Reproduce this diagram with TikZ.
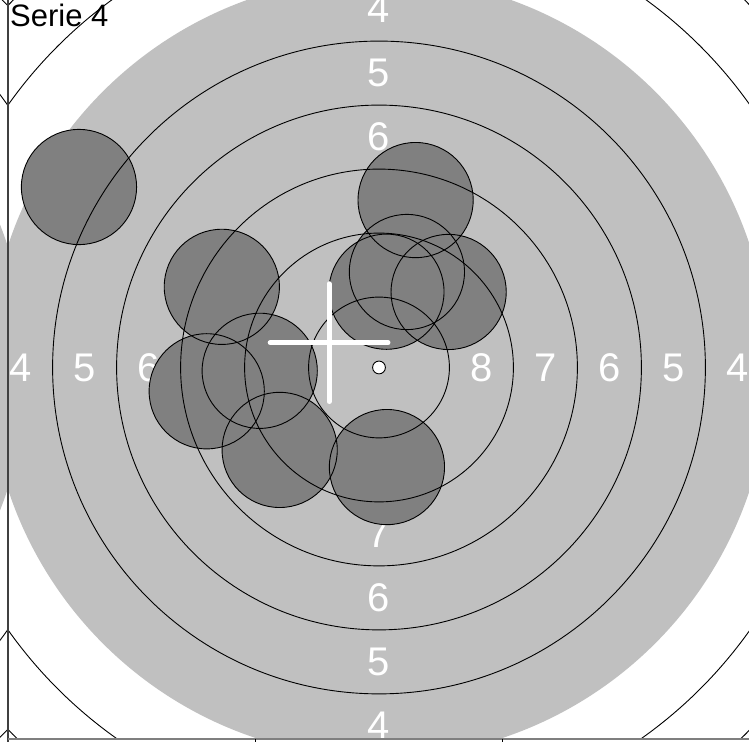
\documentclass[tikz,border=0pt]{standalone}
\usepackage{fontspec}
\setmainfont{Liberation Sans}
\definecolor{tgtAim}{HTML}{C0C0C0}
\definecolor{tgtHole}{HTML}{808080}
\definecolor{tgtFrame}{HTML}{404040}
\definecolor{tgtBase}{HTML}{7F7F7F}
\tikzset{
  aim/.style={fill=tgtAim},
  ring/.style={draw=black, line width=0.9pt},
  holefill/.style={fill=tgtHole},
  ringnum/.style={text=white, inner sep=0pt, font=\fontsize{40}{40}\selectfont},
  serie/.style={text=black, inner sep=0pt, anchor=base west,
                font=\fontsize{31}{31}\selectfont},
  meancross/.style={draw=white, line width=5pt, line cap=round},
  frameline/.style={draw=tgtFrame, line width=1.8pt},
  baseline/.style={draw=tgtBase, line width=1.8pt},
  tickline/.style={draw=black, line width=0.8pt},
}
% air rifle target, lengths in mm (1 mm = 25.6pt)
\newcommand{\ringradii}{2.75,5.25,7.75,10.25,12.75,17.75,20.25,22.75}
\newcommand{\aimradius}{15.25}
\newcommand{\shotradius}{2.25}
\newcommand{\shots}{-11.72/7.05, 1.43/6.54, 1.09/3.73, 0.29/2.96, 2.72/2.95,
  -6.14/3.15, -4.66/-0.13, -6.73/-0.93, -3.88/-3.22, 0.31/-3.89}

\begin{document}
\begin{tikzpicture}[x=25.6pt, y=25.6pt]
\useasboundingbox (-14.805,-14.629) rectangle (14.453,14.355);
\clip (-14.805,-14.629) rectangle (14.453,14.355);

% ---- the neighbouring panel (serie 3)
\begin{scope}
  \clip (-40,-14.5) rectangle (-14.5,20);
  \coordinate (P) at (-29,0);
  \fill[aim] (P) circle (\aimradius);
  \foreach \r in \ringradii { \draw[ring] (P) circle (\r); }
\end{scope}

% ---- the target of this serie
\begin{scope}
  \clip (-14.5,-14.5) rectangle (20,20);
  \coordinate (C) at (0,0);
  \fill[aim] (C) circle (\aimradius);
  \foreach \n/\d in {8/4,7/6.5,6/9,5/11.5,4/14} {
    \node[ringnum] (N\n-e) at (\d,0) {\n};
    \node[ringnum] (N\n-w) at (-\d,0) {\n};
    \node[ringnum] (N\n-n) at (0,\d) {\n};
    \node[ringnum] (N\n-s) at (0,-\d) {\n};
  }
  % ---- shot holes
  \foreach \x/\y [count=\i] in \shots {
    \coordinate (S\i) at (\x,\y);
    \fill[holefill] (S\i) circle (\shotradius);
  }
  \foreach \r in \ringradii { \draw[ring] (C) circle (\r); }
  \foreach \i in {1,...,10} { \draw[ring] (S\i) circle (\shotradius); }
  \draw[ring, fill=white] (C) circle (0.25);
\end{scope}

% ---- mean point of impact
\coordinate (M) at (-1.95,0.97);
\draw[meancross] (M) ++(-2.3,0) -- ++(4.6,0);
\draw[meancross] (M) ++(0,-2.3) -- ++(0,4.6);

% ---- panel frame
\draw[frameline] (-14.5,-20) -- (-14.5,20);
\draw[baseline] (-14.5,-14.5) -- (20,-14.5);
\foreach \t in {-4.833,4.833} { \draw[tickline] (\t,-14.5) -- (\t,-14.75); }

\node[serie] (title) at (-14.414,13.31) {Serie 4};

\end{tikzpicture}
\end{document}
